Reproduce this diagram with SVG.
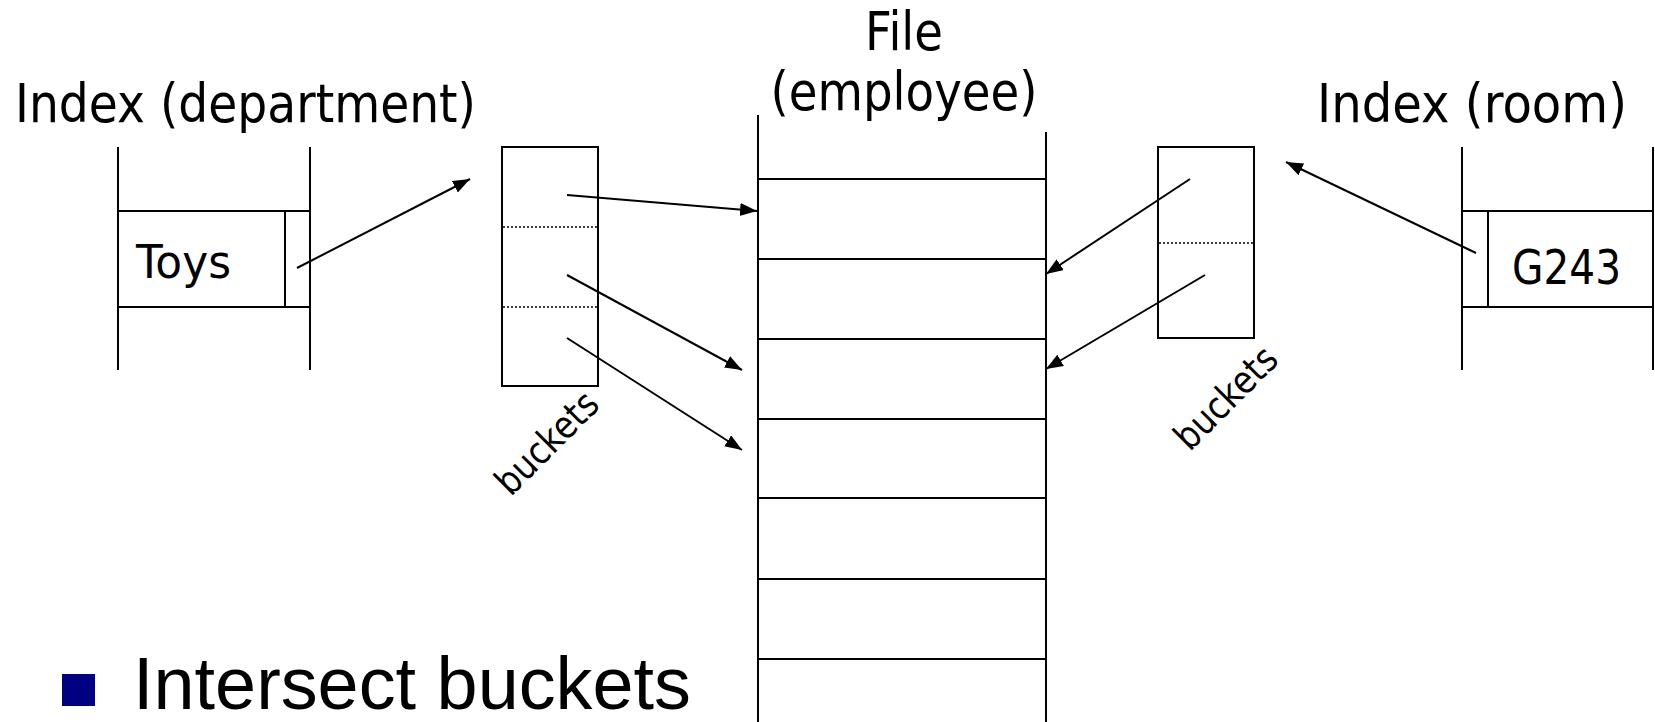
<svg xmlns="http://www.w3.org/2000/svg" width="1655" height="722" viewBox="0 0 1655 722">
<style>
.ln{stroke:#000;stroke-width:2;fill:none}
.dot{stroke:#000;stroke-width:1.5;stroke-dasharray:2,2;fill:none}
.arr{stroke:#000;stroke-width:2;fill:none;marker-end:url(#ah)}
.t{font-family:"DejaVu Sans","Liberation Sans",sans-serif;fill:#000}
.a{font-family:"Liberation Sans",Arial,sans-serif;fill:#000}
</style>
<defs>
<marker id="ah" markerUnits="userSpaceOnUse" markerWidth="20" markerHeight="14" refX="17" refY="6.5" orient="auto">
<path d="M0,0 L17,6.5 L0,13 z" fill="#000"/>
</marker>
</defs>
<rect width="1655" height="722" fill="#fff"/>

<g id="title-dept">
<text class="t" x="15" y="122" font-size="53" textLength="461" lengthAdjust="spacingAndGlyphs">Index (department)</text>
</g>
<g id="title-file">
<text class="t" x="904" y="50" font-size="53" text-anchor="middle" textLength="78" lengthAdjust="spacingAndGlyphs">File</text>
<text class="t" x="904" y="110" font-size="53" text-anchor="middle" textLength="267" lengthAdjust="spacingAndGlyphs">(employee)</text>
</g>
<g id="title-room">
<text class="t" x="1317" y="122" font-size="53" textLength="310" lengthAdjust="spacingAndGlyphs">Index (room)</text>
</g>

<g id="index-dept">
<line class="ln" x1="118" y1="147" x2="118" y2="370"/>
<line class="ln" x1="310" y1="147" x2="310" y2="370"/>
<line class="ln" x1="118" y1="211" x2="310" y2="211"/>
<line class="ln" x1="118" y1="307" x2="310" y2="307"/>
<line class="ln" x1="285" y1="211" x2="285" y2="307"/>
<text class="t" x="136" y="278" font-size="47" textLength="95" lengthAdjust="spacingAndGlyphs">Toys</text>
</g>

<g id="buckets-dept">
<rect class="ln" x="502" y="147" width="96" height="239"/>
<line class="dot" x1="503" y1="227" x2="597" y2="227"/>
<line class="dot" x1="503" y1="307" x2="597" y2="307"/>
<text class="t" x="556" y="452" font-size="38" text-anchor="middle" textLength="128" lengthAdjust="spacingAndGlyphs" transform="rotate(-45 556 452)">buckets</text>
</g>

<g id="file-employee">
<line class="ln" x1="758" y1="115" x2="758" y2="722"/>
<line class="ln" x1="1046" y1="132" x2="1046" y2="722"/>
<line class="ln" x1="758" y1="179" x2="1046" y2="179"/>
<line class="ln" x1="758" y1="259" x2="1046" y2="259"/>
<line class="ln" x1="758" y1="339" x2="1046" y2="339"/>
<line class="ln" x1="758" y1="419" x2="1046" y2="419"/>
<line class="ln" x1="758" y1="498" x2="1046" y2="498"/>
<line class="ln" x1="758" y1="579" x2="1046" y2="579"/>
<line class="ln" x1="758" y1="659" x2="1046" y2="659"/>
</g>

<g id="buckets-room">
<rect class="ln" x="1158" y="147" width="96" height="191"/>
<line class="dot" x1="1159" y1="243" x2="1253" y2="243"/>
<text class="t" x="1235" y="407" font-size="38" text-anchor="middle" textLength="128" lengthAdjust="spacingAndGlyphs" transform="rotate(-45 1235 407)">buckets</text>
</g>

<g id="index-room">
<line class="ln" x1="1462" y1="147" x2="1462" y2="370"/>
<line class="ln" x1="1653" y1="147" x2="1653" y2="370"/>
<line class="ln" x1="1462" y1="211" x2="1653" y2="211"/>
<line class="ln" x1="1462" y1="307" x2="1653" y2="307"/>
<line class="ln" x1="1488" y1="211" x2="1488" y2="307"/>
<text class="t" x="1512" y="284" font-size="48" textLength="109" lengthAdjust="spacingAndGlyphs">G243</text>
</g>

<g id="connectors">
<line class="arr" x1="297" y1="268" x2="470" y2="179"/>
<line class="arr" x1="567" y1="195" x2="757" y2="211"/>
<line class="arr" x1="567" y1="275" x2="742" y2="370"/>
<line class="arr" x1="567" y1="338" x2="742" y2="450"/>
<line class="arr" x1="1190" y1="179" x2="1046" y2="274"/>
<line class="arr" x1="1205" y1="275" x2="1046" y2="369"/>
<line class="arr" x1="1476" y1="253" x2="1286" y2="162"/>
</g>

<g id="bullet">
<rect x="62" y="674" width="33" height="32" fill="#000080"/>
<text class="a" x="133" y="709" font-size="74" textLength="558" lengthAdjust="spacingAndGlyphs">Intersect buckets</text>
</g>
</svg>
